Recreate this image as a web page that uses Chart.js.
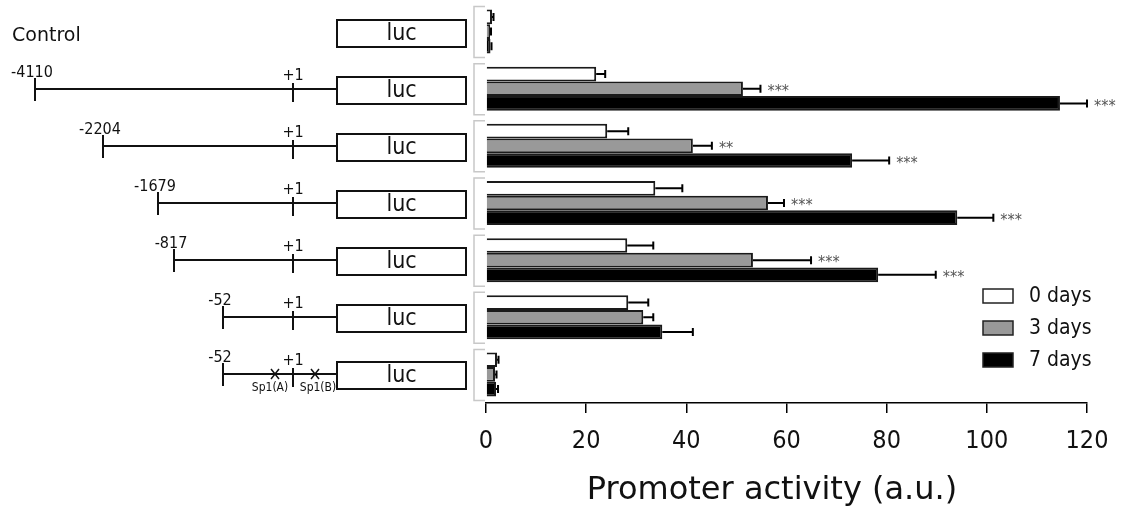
<!DOCTYPE html>
<html>
<head>
<meta charset="utf-8">
<script src="https://cdn.jsdelivr.net/npm/chart.js@4.4.1/dist/chart.umd.min.js"></script>
<style>
  html, body { margin: 0; padding: 0; background: #fff; }
  #wrap { width: 1123px; height: 513px; }
</style>
</head>
<body>
<div id="wrap"><canvas id="promoterChart" width="1123" height="513"></canvas></div>
<script>
// constructs (rows, top to bottom)
const constructs = ['Control', '-4110', '-2204', '-1679', '-817', '-52', '-52 Sp1mut'];
const seriesNames = ['0 days', '3 days', '7 days'];

// promoter activity (a.u.)
const days0 = [1.2, 22.0, 24.2, 33.8, 28.2, 28.4, 2.2];
const days3 = [0.8, 51.3, 41.3, 56.3, 53.3, 31.4, 1.8];
const days7 = [0.9, 114.6, 73.1, 94.1, 78.3, 35.2, 2.0];

// error bars (upper half only, as drawn)
const err0 = [0.3, 1.8, 4.2, 5.4, 5.2, 4.0, 0.3];
const err3 = [0.2, 3.5, 3.8, 3.2, 11.6, 2.0, 0.3];
const err7 = [0.2, 5.4, 7.4, 7.2, 11.5, 6.1, 0.4];

// significance marks
const sig0 = ['', '', '', '', '', '', ''];
const sig3 = ['', '***', '**', '***', '***', '', ''];
const sig7 = ['', '***', '***', '***', '***', '', ''];

const xTicks = [0, 20, 40, 60, 80, 100, 120];
const xTitle = 'Promoter activity (a.u.)';

const FONT = '"DejaVu Sans Condensed", "DejaVu Sans", sans-serif';
const FONT_WIDE = '"DejaVu Sans", sans-serif';

// schematic layout of the promoter drawings (not to scale)
const diagram = {
  startX: [null, 35, 103, 158, 174, 223, 223],
  plusOneX: 293,
  boxLeft: 337,
  boxRight: 466
};

// left side: promoter constructs + luc boxes
const constructPlugin = {
  id: 'constructs',
  afterDraw(chart) {
    const ctx = chart.ctx;
    const y = chart.scales.y;
    ctx.save();
    ctx.strokeStyle = '#111';
    ctx.fillStyle = '#111';
    constructs.forEach((name, i) => {
      const c = Math.round(y.getPixelForValue(i)) + 1;
      // luc box
      ctx.lineWidth = 2;
      ctx.strokeRect(diagram.boxLeft, c - 13, diagram.boxRight - diagram.boxLeft, 27);
      ctx.font = '23px ' + FONT;
      ctx.textAlign = 'center';
      ctx.textBaseline = 'middle';
      ctx.fillText('luc', (diagram.boxLeft + diagram.boxRight) / 2, c + 1);

      const sx = diagram.startX[i];
      if (sx === null) {
        ctx.font = '19px ' + FONT_WIDE;
        ctx.textAlign = 'left';
        ctx.fillText(name, 12, c + 3);
        return;
      }
      const ly = c - 1;
      ctx.beginPath();
      ctx.moveTo(sx, ly); ctx.lineTo(diagram.boxLeft, ly);
      ctx.moveTo(sx, ly - 11); ctx.lineTo(sx, ly + 12);
      ctx.moveTo(diagram.plusOneX, ly - 6); ctx.lineTo(diagram.plusOneX, ly + 13);
      ctx.stroke();

      ctx.font = '16px ' + FONT;
      ctx.textAlign = 'center';
      ctx.textBaseline = 'alphabetic';
      ctx.fillText(name.split(' ')[0], sx - 3, ly - 12);
      ctx.fillText('+1', diagram.plusOneX, ly - 9);

      if (name.indexOf('Sp1') > -1) {
        ctx.lineWidth = 1.5;
        [275, 315].forEach(px => {
          ctx.beginPath();
          ctx.moveTo(px - 4, ly - 5); ctx.lineTo(px + 4, ly + 5);
          ctx.moveTo(px + 4, ly - 5); ctx.lineTo(px - 4, ly + 5);
          ctx.stroke();
        });
        ctx.font = '12px ' + FONT;
        ctx.textBaseline = 'top';
        ctx.fillText('Sp1(A)', 270, ly + 8);
        ctx.fillText('Sp1(B)', 318, ly + 8);
      }
    });

    // x axis title
    ctx.font = '32px ' + FONT_WIDE;
    ctx.textAlign = 'center';
    ctx.textBaseline = 'middle';
    ctx.fillText(xTitle, 772, 491);
    ctx.restore();
  }
};

// gray brackets, error bars, stars, legend
const extrasPlugin = {
  id: 'extras',
  afterDatasetsDraw(chart) {
    const ctx = chart.ctx;
    const x = chart.scales.x;
    const y = chart.scales.y;
    const errs = [err0, err3, err7];
    const sigs = [sig0, sig3, sig7];
    ctx.save();

    // group brackets
    ctx.strokeStyle = '#c8c8c8';
    ctx.lineWidth = 1.5;
    constructs.forEach((n, i) => {
      const c = y.getPixelForValue(i);
      ctx.beginPath();
      ctx.moveTo(485, c - 25); ctx.lineTo(474, c - 25);
      ctx.lineTo(474, c + 26); ctx.lineTo(485, c + 26);
      ctx.stroke();
    });

    // error bars and significance
    chart.data.datasets.forEach((ds, d) => {
      const meta = chart.getDatasetMeta(d);
      meta.data.forEach((bar, i) => {
        const x0 = x.getPixelForValue(ds.data[i]);
        const x1 = x.getPixelForValue(ds.data[i] + errs[d][i]);
        const by = bar.y;
        ctx.strokeStyle = '#000';
        ctx.lineWidth = 2;
        ctx.beginPath();
        ctx.moveTo(x0, by); ctx.lineTo(x1, by);
        ctx.moveTo(x1, by - 4); ctx.lineTo(x1, by + 4);
        ctx.stroke();
        if (sigs[d][i]) {
          ctx.fillStyle = '#555';
          ctx.font = '16px ' + FONT;
          ctx.textAlign = 'left';
          ctx.textBaseline = 'middle';
          ctx.fillText(sigs[d][i], x1 + 7, by + 3);
        }
      });
    });

    // legend
    chart.data.datasets.forEach((ds, d) => {
      const ty = 296 + d * 32;
      ctx.fillStyle = ds.backgroundColor;
      ctx.fillRect(983, ty - 7, 30, 14);
      ctx.strokeStyle = '#222';
      ctx.lineWidth = 1.5;
      ctx.strokeRect(983, ty - 7, 30, 14);
      ctx.fillStyle = '#111';
      ctx.font = '21px ' + FONT;
      ctx.textAlign = 'left';
      ctx.textBaseline = 'middle';
      ctx.fillText(ds.label, 1029, ty + 1);
    });
    ctx.restore();
  }
};

const ctx = document.getElementById('promoterChart').getContext('2d');
new Chart(ctx, {
  type: 'bar',
  data: {
    labels: constructs,
    datasets: [
      { label: seriesNames[0], data: days0, backgroundColor: '#ffffff', borderColor: '#1a1a1a', borderWidth: 2 },
      { label: seriesNames[1], data: days3, backgroundColor: '#999999', borderColor: '#1a1a1a', borderWidth: 2 },
      { label: seriesNames[2], data: days7, backgroundColor: '#000000', borderColor: '#1a1a1a', borderWidth: 2 }
    ]
  },
  options: {
    indexAxis: 'y',
    responsive: false,
    animation: false,
    layout: { padding: { left: 486, right: 36, top: 3, bottom: 44 } },
    categoryPercentage: 0.77,
    barPercentage: 1.0,
    plugins: {
      legend: { display: false },
      tooltip: { enabled: false }
    },
    scales: {
      x: {
        min: 0,
        max: 120,
        afterBuildTicks: axis => { axis.ticks = xTicks.map(v => ({ value: v })); },
        grid: { drawOnChartArea: false, drawTicks: true, tickLength: 10, color: '#000', lineWidth: 1.5 },
        border: { color: '#000', width: 1.5 },
        ticks: { color: '#111', font: { family: FONT, size: 25 }, padding: 13, maxRotation: 0 },
        title: { display: false }
      },
      y: {
        display: false
      }
    }
  },
  plugins: [constructPlugin, extrasPlugin]
});
</script>
</body>
</html>
